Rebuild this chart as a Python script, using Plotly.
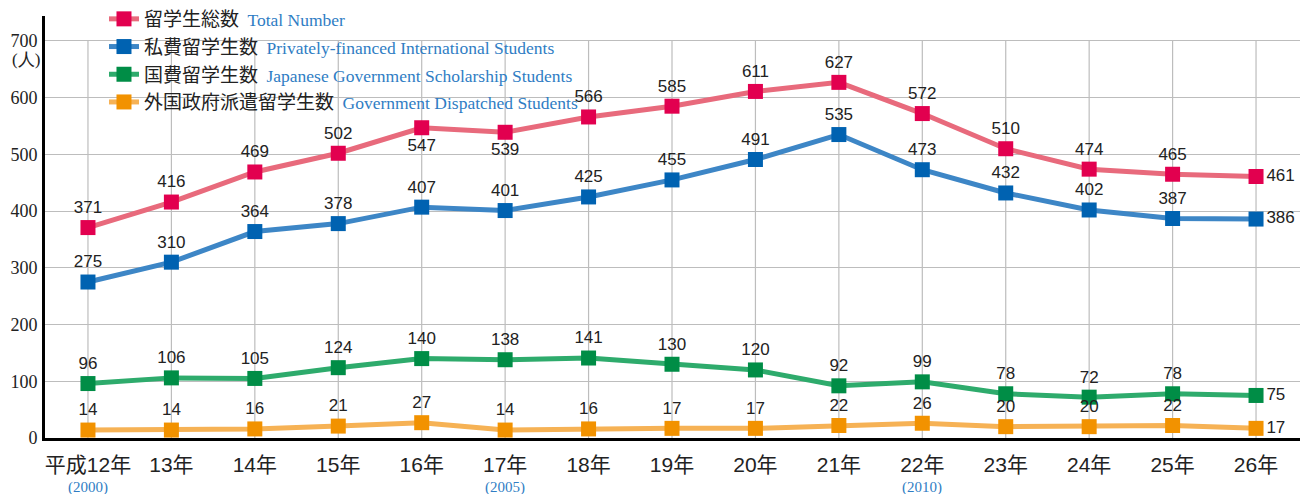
import plotly.graph_objects as go

categories = ["平成12年", "13年", "14年", "15年", "16年", "17年", "18年", "19年",
              "20年", "21年", "22年", "23年", "24年", "25年", "26年"]
western_years = {0: "(2000)", 5: "(2005)", 10: "(2010)"}

total = [371, 416, 469, 502, 547, 539, 566, 585, 611, 627, 572, 510, 474, 465, 461]
private = [275, 310, 364, 378, 407, 401, 425, 455, 491, 535, 473, 432, 402, 387, 386]
govt = [96, 106, 105, 124, 140, 138, 141, 130, 120, 92, 99, 78, 72, 78, 75]
dispatched = [14, 14, 16, 21, 27, 14, 16, 17, 17, 22, 26, 20, 20, 22, 17]

series = [
    ("留学生総数", "Total Number", total, "#E86A7C", "#E2004F"),
    ("私費留学生数", "Privately-financed International Students", private, "#3D86C6", "#0062B1"),
    ("国費留学生数", "Japanese Government Scholarship Students", govt, "#2EAB6C", "#008D46"),
    ("外国政府派遣留学生数", "Government Dispatched Students", dispatched, "#F6B255", "#F29200"),
]

x = list(range(len(categories)))
LABEL_FONT = "Liberation Sans, Arial, sans-serif"
SERIF = "Liberation Serif, Times New Roman, serif"
BLUE = "#2F7DC4"

fig = go.Figure()
for i, (jp, en, vals, lcol, mcol) in enumerate(series):
    pos = []
    for k in range(len(vals)):
        if k == len(vals) - 1:
            pos.append("middle right")
        elif i == 0 and k in (4, 5):
            pos.append("bottom center")
        else:
            pos.append("top center")
    name = (f"{jp}&nbsp;&nbsp;<span style='font-family:{SERIF};color:{BLUE};font-size:17.5px'>{en}</span>")
    fig.add_trace(go.Scatter(
        x=x, y=vals, mode="lines+markers+text",
        name=name, legendgroup=f"g{i}",
        line=dict(color=lcol, width=5),
        marker=dict(symbol="square", size=15, color=mcol),
        text=[str(v) for v in vals], textposition=pos,
        textfont=dict(family=LABEL_FONT, size=17, color="#222222"),
        cliponaxis=False,
    ))

shapes = []
for k in x:
    shapes.append(dict(type="line", xref="x", yref="y", x0=k, x1=k, y0=0, y1=700,
                       line=dict(color="#BDBDBD", width=1.2), layer="below"))

annotations = [dict(text="(人)", xref="paper", yref="y", x=-0.002, y=700, yshift=-19,
                    xanchor="right", yanchor="middle", showarrow=False,
                    font=dict(family=SERIF, size=17, color="#222222"))]
for k, t in western_years.items():
    annotations.append(dict(text=t, xref="x", yref="paper", x=k, y=0, yshift=-49,
                            xanchor="center", yanchor="middle", showarrow=False,
                            font=dict(family=SERIF, size=15, color=BLUE)))

fig.update_layout(
    width=1302, height=494,
    margin=dict(l=45, r=2, t=16, b=56, autoexpand=False),
    plot_bgcolor="white", paper_bgcolor="white",
    showlegend=True,
    legend=dict(x=0.047, y=1.0, xref="paper", yref="container",
                xanchor="left", yanchor="top",
                bgcolor="rgba(0,0,0,0)", tracegroupgap=0,
                font=dict(family="Noto Sans CJK JP, sans-serif", size=19, color="#222222")),
    shapes=shapes, annotations=annotations,
    xaxis=dict(range=[-0.515, 14.527], tickmode="array", tickvals=x, ticktext=categories,
               showgrid=False, showline=True, linecolor="black", linewidth=3,
               ticks="", zeroline=False, automargin=False, ticklabelstandoff=6,
               tickfont=dict(family="Liberation Sans, Noto Sans CJK JP, sans-serif", size=21, color="#222222")),
    yaxis=dict(range=[0, 744], tickmode="linear", tick0=0, dtick=100,
               showgrid=True, gridcolor="#BDBDBD", gridwidth=1.2,
               showline=True, linecolor="black", linewidth=3, zeroline=False,
               ticks="", ticklabelstandoff=1, automargin=False,
               tickfont=dict(family=SERIF, size=18, color="#222222")),
)

fig.write_html("out.html", config={"displayModeBar": False},
               post_script="document.body.style.margin='0';document.body.style.overflow='hidden';")
